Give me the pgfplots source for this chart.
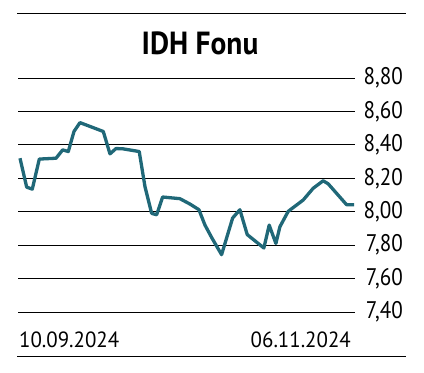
\documentclass[border=0pt]{standalone}
\usepackage{fontspec}
\setmainfont{PT Sans}
\newfontfamily\tickfont[FakeStretch=0.88]{PT Sans}
\newfontfamily\datefont[FakeStretch=0.95]{PT Sans}
\newfontfamily\titlefont[FakeStretch=0.92]{PT Sans Bold}
\usepackage{pgfplots}
\pgfplotsset{compat=1.18}
\definecolor{line}{RGB}{32,104,120}
\begin{document}
\begin{tikzpicture}[x=1pt,y=1pt]
\path[use as bounding box] (0,0) rectangle (424,373);
\begin{axis}[
  at={(18pt,61pt)}, anchor=south west,
  scale only axis, width=337pt, height=234pt,
  xmin=-0.24, xmax=40.1, ymin=7.4, ymax=8.8,
  ytick={7.4,7.6,...,8.81}, xtick=\empty,
  yticklabel pos=right,
  yticklabel style={anchor=east, inner sep=0pt, xshift=48pt, font=\fontsize{24}{26}\tickfont},
  yticklabel={\pgfmathprintnumber[fixed,fixed zerofill,precision=2,use comma]{\tick}},
  /pgf/number format/assume math mode=true,
  major tick length=0pt,
  axis line style={draw=none},
  ymajorgrids, grid style={black, line width=0.9pt},
  clip=false,
]
\addplot[line, line width=3.3pt, line join=round] coordinates {
(0,8.32) (0.80,8.147) (1.47,8.135) (2.31,8.315) (4.31,8.32) (5.11,8.37) (5.78,8.36)
(6.46,8.48) (7.18,8.533) (9.97,8.48) (10.77,8.346) (11.49,8.378) (12.36,8.376)
(14.27,8.36) (14.96,8.15) (15.76,7.99) (16.36,7.982) (17.07,8.088) (19.14,8.078)
(20.34,8.046) (21.42,8.012) (22.14,7.92) (22.97,7.843) (24.13,7.743) (25.45,7.962)
(26.32,8.012) (27.20,7.863) (29.19,7.783) (29.83,7.92) (30.63,7.81) (31.11,7.91)
(32.10,8.002) (33.90,8.07) (35.09,8.14) (36.29,8.185) (36.89,8.167) (39.09,8.042) (40,8.042)
};
\end{axis}
\draw[line width=0.9pt] (17,360) -- (406,360);
\draw[line width=0.9pt] (17,17) -- (406,17);
\node[anchor=base, inner sep=0pt, font=\fontsize{32}{34}\titlefont] at (200,318) {IDH Fonu};
\node[anchor=base west, inner sep=0pt, font=\fontsize{22}{24}\datefont] at (19,26) {10.09.2024};
\node[anchor=base east, inner sep=0pt, font=\fontsize{22}{24}\datefont] at (351,26) {06.11.2024};
\end{tikzpicture}
\end{document}
